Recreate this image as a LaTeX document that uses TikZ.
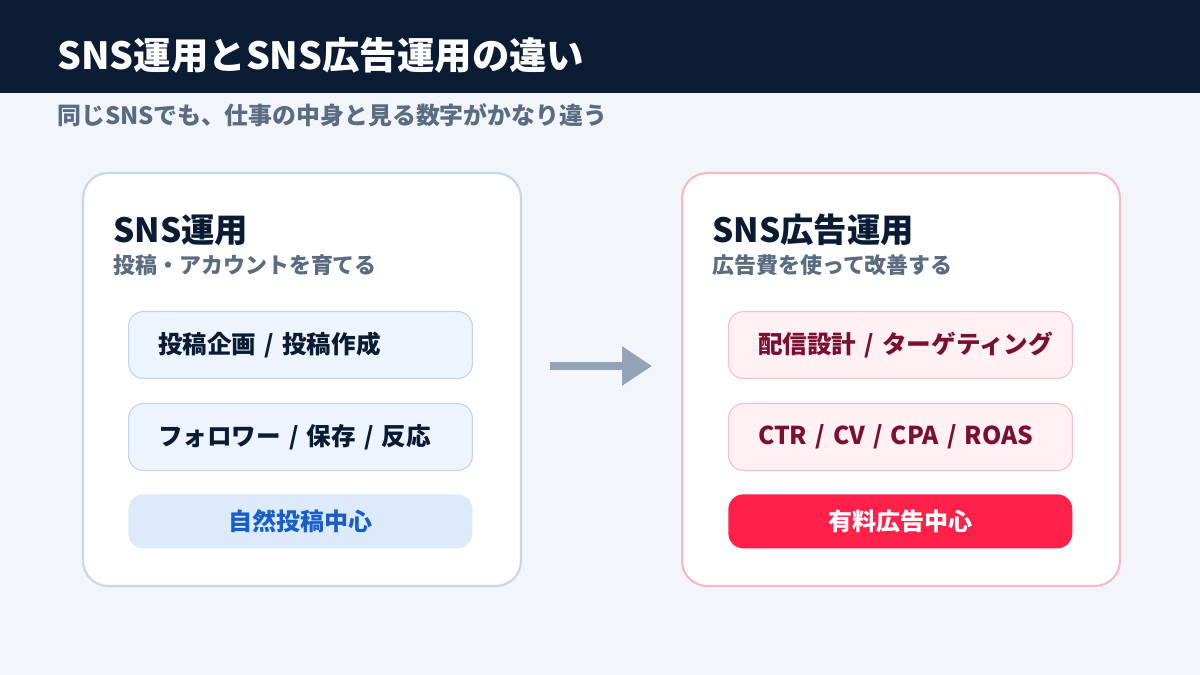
\documentclass[tikz,border=0pt]{standalone}
\usepackage{fontspec}
\setmainfont{Noto Sans CJK JP}
\usetikzlibrary{positioning,arrows.meta}
\definecolor{bgcol}{HTML}{F2F5FA}
\definecolor{navy}{HTML}{0B1B33}
\definecolor{subgray}{HTML}{5B6B80}
\definecolor{cardline}{HTML}{C9D6E8}
\definecolor{pinkline}{HTML}{F9B8C6}
\definecolor{bluebox}{HTML}{EEF4FD}
\definecolor{blueline}{HTML}{C5D3E8}
\definecolor{bluehl}{HTML}{DCEAFB}
\definecolor{bluetxt}{HTML}{1A5FC8}
\definecolor{pinkbox}{HTML}{FFF0F3}
\definecolor{pinkbd}{HTML}{F7BFCB}
\definecolor{redtxt}{HTML}{7A1030}
\definecolor{redhl}{HTML}{FF2149}
\definecolor{arrowgray}{HTML}{94A3B8}
\begin{document}
\begin{tikzpicture}[x=0.02cm,y=-0.02cm,
    font=\bfseries,
    card/.style={rectangle, draw, fill=white, line width=1.2pt, rounded corners=0.5cm, minimum width=8.76cm, minimum height=8.26cm, anchor=north west},
    item/.style={rectangle, draw, line width=0.6pt, rounded corners=0.3cm, minimum width=6.88cm, minimum height=1.34cm, anchor=north west, font=\fontsize{14}{16}\bfseries, text width=5.7cm, align=left, execute at begin node=\mbox\bgroup, execute at end node=\egroup},
    tagbox/.style={rectangle, rounded corners=0.3cm, minimum width=6.88cm, minimum height=1.08cm, anchor=north west, font=\fontsize{13.7}{16}\bfseries},
    head/.style={anchor=west, inner sep=0pt, text=navy, font=\fontsize{19}{22}\bfseries},
    sub/.style={anchor=west, inner sep=0pt, text=subgray, font=\fontsize{12.5}{14}\bfseries}
  ]
  \fill[bgcol] (0,0) rectangle (1200,675);
  \fill[navy] (0,0) rectangle (1200,93);
  \node[anchor=west, inner sep=0pt, text=white, font=\fontsize{21.3}{24}\bfseries] (title) at (57,55) {SNS運用とSNS広告運用の違い};
  \node[sub, font=\fontsize{13.6}{15}\bfseries] (subtitle) at (57,115) {同じSNSでも、仕事の中身と見る数字がかなり違う};

  % left card
  \node[card, draw=cardline] (organic) at (82,172) {};
  \node[head] (orgHead) at (113,230) {SNS運用};
  \node[sub] (orgSub) at (113,265) {投稿・アカウントを育てる};
  \node[item, draw=blueline, fill=bluebox, text=navy] (orgA) at (128,311) {投稿企画 / 投稿作成};
  \node[item, draw=blueline, fill=bluebox, text=navy] (orgB) at (128,403) {フォロワー / 保存 / 反応};
  \node[tagbox, fill=bluehl, text=bluetxt] (orgC) at (128,494) {自然投稿中心};

  % right card
  \node[card, draw=pinkline] (ads) at (681,172) {};
  \node[head] (adsHead) at (712,230) {SNS広告運用};
  \node[sub] (adsSub) at (712,265) {広告費を使って改善する};
  \node[item, draw=pinkbd, fill=pinkbox, text=redtxt] (adsA) at (728,311) {配信設計 / ターゲティング};
  \node[item, draw=pinkbd, fill=pinkbox, text=redtxt] (adsB) at (728,403) {CTR / CV / CPA / ROAS};
  \node[tagbox, fill=redhl, text=white] (adsC) at (728,494) {有料広告中心};

  \coordinate (arrS) at (550,366);
  \coordinate (arrE) at (652,366);
  \draw[arrowgray, line width=4pt, -{Triangle[length=0.6cm, width=0.75cm]}] (arrS) -- (arrE);
\end{tikzpicture}
\end{document}
